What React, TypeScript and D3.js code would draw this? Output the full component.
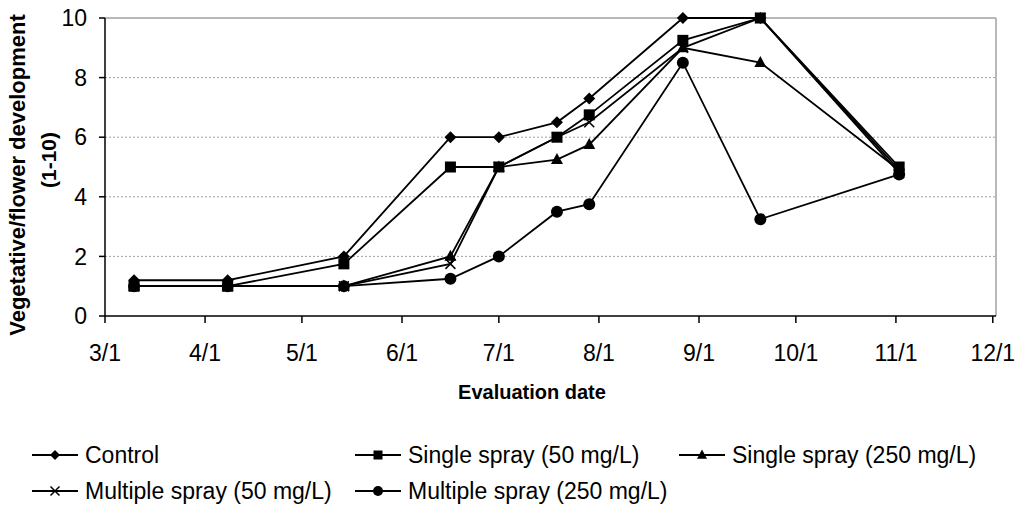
import React from 'react';
import * as d3 from 'd3';

// ---- data ----
const seriesNames = [
  'Control',
  'Single spray (50 mg/L)',
  'Single spray (250 mg/L)',
  'Multiple spray (50 mg/L)',
  'Multiple spray (250 mg/L)',
];
const evalDates = [
  '2007-03-10', '2007-04-08', '2007-05-14', '2007-06-16', '2007-07-01',
  '2007-07-19', '2007-07-29', '2007-08-27', '2007-09-20', '2007-11-02',
];
const control = [1.2, 1.2, 2.0, 6.0, 6.0, 6.5, 7.3, 10, 10, 4.9];
const single50 = [1, 1, 1.75, 5, 5, 6, 6.75, 9.25, 10, 5];
const single250 = [1, 1, 1, 2, 5, 5.25, 5.75, 9, 8.5, 4.9];
const multiple50 = [1, 1, 1, 1.75, 5, 6, 6.5, 9, 10, 4.8];
const multiple250 = [1, 1, 1, 1.25, 2, 3.5, 3.75, 8.5, 3.25, 4.75];
const xTickLabels = ['3/1', '4/1', '5/1', '6/1', '7/1', '8/1', '9/1', '10/1', '11/1', '12/1'];
const yTickValues = [0, 2, 4, 6, 8, 10];
const xDomain = ['2007-03-01', '2007-12-02'];

const seriesValues = [control, single50, single250, multiple50, multiple250];
const markerTypes = ['diamond', 'square', 'triangle', 'x', 'circle'];

const FONT = '"Liberation Sans", Arial, Helvetica, sans-serif';

function Marker({ type, x, y, s }: { type: string; x: number; y: number; s: number }) {
  const r = s / 2;
  if (type === 'diamond') {
    return <path d={`M${x},${y - r}L${x + r},${y}L${x},${y + r}L${x - r},${y}Z`} fill="#000" />;
  }
  if (type === 'square') {
    return <rect x={x - r} y={y - r} width={s} height={s} fill="#000" />;
  }
  if (type === 'triangle') {
    const h = s * 0.92;
    return <path d={`M${x},${y - h * 0.6}L${x + r},${y + h * 0.4}L${x - r},${y + h * 0.4}Z`} fill="#000" />;
  }
  if (type === 'circle') {
    return <circle cx={x} cy={y} r={r} fill="#000" />;
  }
  // x mark
  return (
    <path
      d={`M${x - r},${y - r}L${x + r},${y + r}M${x - r},${y + r}L${x + r},${y - r}`}
      stroke="#000"
      strokeWidth={1.5}
      fill="none"
    />
  );
}

export default function App() {
  const parse = d3.utcParse('%Y-%m-%d');
  const parseTick = d3.utcParse('%m/%d/%Y');
  const left = 105, right = 996, top = 18, bottom = 316;

  const x = d3.scaleUtc().domain(xDomain.map((d) => parse(d) as Date)).range([left, right]);
  const y = d3.scaleLinear().domain([0, 10]).range([bottom, top]);

  const dates = evalDates.map((d) => parse(d) as Date);
  const line = d3
    .line<number>()
    .x((_, i) => x(dates[i]))
    .y((v) => y(v));

  const xTicks = xTickLabels.map((l) => ({ label: l, date: parseTick(l + '/2007') as Date }));

  const legendPos = [
    { x: 32, y: 455 },
    { x: 355, y: 455 },
    { x: 679, y: 455 },
    { x: 32, y: 491 },
    { x: 355, y: 491 },
  ];
  const legendMarkerSize = [10, 9, 10, 9, 10];
  const chartMarkerSize = [12, 11, 12, 10, 12];

  return (
    <svg
      width={1025}
      height={506}
      style={{ position: 'absolute', left: 0, top: 0, background: '#fff' }}
      fontFamily={FONT}
    >
      <rect x={0} y={0} width={1025} height={506} fill="#fff" />
      {/* gridlines */}
      {yTickValues
        .filter((v) => v > 0 && v < 10)
        .map((v) => (
          <line
            key={v}
            x1={left}
            x2={right}
            y1={y(v)}
            y2={y(v)}
            stroke="#a0a0a0"
            strokeWidth={1}
            strokeDasharray="2,2"
          />
        ))}
      {/* top and right border */}
      <line x1={left} x2={right} y1={y(10)} y2={y(10)} stroke="#a0a0a0" strokeWidth={1.5} />
      <line x1={right} x2={right} y1={top} y2={bottom} stroke="#a0a0a0" strokeWidth={1.5} />
      {/* axes */}
      <line x1={left} x2={left} y1={top} y2={bottom} stroke="#000" strokeWidth={1.5} />
      <line x1={left} x2={right} y1={bottom} y2={bottom} stroke="#000" strokeWidth={1.5} />
      {yTickValues.map((v) => (
        <g key={v}>
          <line x1={left - 6} x2={left} y1={y(v)} y2={y(v)} stroke="#000" strokeWidth={1.5} />
          <text x={87} y={y(v)} dy="0.36em" textAnchor="end" fontSize={23} fill="#000">
            {v}
          </text>
        </g>
      ))}
      {xTicks.map((t) => (
        <g key={t.label}>
          <line x1={x(t.date)} x2={x(t.date)} y1={bottom} y2={bottom + 7} stroke="#000" strokeWidth={1.5} />
          <text x={x(t.date)} y={361} textAnchor="middle" fontSize={23} fill="#000">
            {t.label}
          </text>
        </g>
      ))}
      {/* axis titles */}
      <text x={532} y={399} textAnchor="middle" fontSize={20} fontWeight="bold" fill="#000">
        Evaluation date
      </text>
      <text transform="translate(25,175) rotate(-90)" textAnchor="middle" fontSize={22} fontWeight="bold" fill="#000">
        Vegetative/flower development
      </text>
      <text transform="translate(56,160) rotate(-90)" textAnchor="middle" fontSize={21} fontWeight="bold" fill="#000">
        (1-10)
      </text>
      {/* series */}
      {seriesValues.map((vals, si) => (
        <g key={si}>
          <path d={line(vals) || ''} fill="none" stroke="#000" strokeWidth={1.8} />
          {vals.map((v, i) => (
            <Marker key={i} type={markerTypes[si]} x={x(dates[i])} y={y(v)} s={chartMarkerSize[si]} />
          ))}
        </g>
      ))}
      {/* legend */}
      {seriesNames.map((name, si) => {
        const p = legendPos[si];
        return (
          <g key={name}>
            <line x1={p.x} x2={p.x + 46} y1={p.y} y2={p.y} stroke="#000" strokeWidth={1.8} />
            <Marker type={markerTypes[si]} x={p.x + 23} y={p.y} s={legendMarkerSize[si]} />
            <text x={p.x + 53} y={p.y} dy="0.36em" fontSize={23} fill="#000">
              {name}
            </text>
          </g>
        );
      })}
    </svg>
  );
}
